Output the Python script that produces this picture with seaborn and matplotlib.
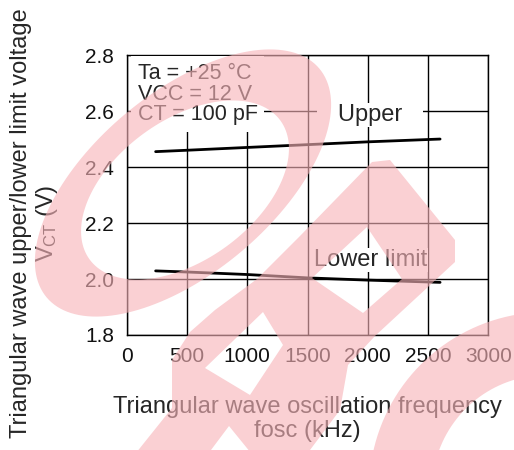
import matplotlib
matplotlib.use("Agg")
import matplotlib.pyplot as plt
import matplotlib.path as mpath
import matplotlib.patches as mpatches
import seaborn as sns
import numpy as np
import pandas as pd

# values
fosc_khz = [240, 500, 1000, 1500, 2000, 2600]
v_upper = [2.455, 2.460, 2.470, 2.480, 2.490, 2.500]
v_lower = [2.029, 2.025, 2.016, 2.004, 1.996, 1.988]

x_ticks = [0, 500, 1000, 1500, 2000, 2500, 3000]
y_ticks = [1.8, 2.0, 2.2, 2.4, 2.6, 2.8]

conditions = "Ta = +25 °C\nVCC = 12 V\nCT = 100 pF"

W, H = 514, 450


def _px(pts):
    # image pixels (y down) -> figure fraction
    pts = np.asarray(pts, dtype=float)
    return np.column_stack([pts[:, 0] / W, 1 - pts[:, 1] / H])


def _oriented(pts, ccw=True):
    p = _px(pts)
    area = 0.5 * np.sum(p[:, 0] * np.roll(p[:, 1], -1) - np.roll(p[:, 0], -1) * p[:, 1])
    if (area > 0) != ccw:
        p = p[::-1]
    return p


def _ellipse(cx, cy, a, b, ang, n=160):
    t = np.linspace(0, 2 * np.pi, n, endpoint=False)
    r = np.deg2rad(ang)
    x = a * np.cos(t) * np.cos(r) - b * np.sin(t) * np.sin(r)
    y = a * np.cos(t) * np.sin(r) + b * np.sin(t) * np.cos(r)
    return np.column_stack([cx + x, cy - y])


def add_watermark(fig):
    # rough trace of the pink logo stamped over the original graph
    shapes = [
        (_ellipse(183, 183, 178, 90, 40), True),
        (_ellipse(185, 190, 118, 70, 36), False),
        (_ellipse(547, 490, 178, 178, 0), True),
        (_ellipse(547, 490, 115, 115, 0), False),
        (np.array([[132, 458], [172, 408], [172, 360], [190, 332], [215, 310],
                   [257, 279], [300, 236], [372, 162], [390, 160], [455, 240],
                   [455, 262], [375, 336], [348, 365], [340, 410], [304, 458],
                   [255, 458], [229, 426], [205, 458]]), True),
        (np.array([[367, 227], [402, 279], [363, 313], [312, 278]]), False),
        (np.array([[263, 312], [283, 345], [250, 395], [205, 368]]), False),
    ]
    verts, codes = [], []
    for pts, ccw in shapes:
        p = _oriented(pts, ccw)
        verts += list(p) + [p[0]]
        codes += [mpath.Path.MOVETO] + [mpath.Path.LINETO] * (len(p) - 1) + [mpath.Path.CLOSEPOLY]
    patch = mpatches.PathPatch(mpath.Path(verts, codes), transform=fig.transFigure,
                               facecolor=(0.97, 0.70, 0.72), edgecolor="none",
                               alpha=0.62, zorder=100)
    fig.add_artist(patch)


df = pd.concat([
    pd.DataFrame({"fosc": fosc_khz, "vct": v_upper, "curve": "Upper"}),
    pd.DataFrame({"fosc": fosc_khz, "vct": v_lower, "curve": "Lower limit"}),
])

sns.set_style("white")
plt.rcParams["font.family"] = ["Liberation Sans", "DejaVu Sans"]
plt.rcParams["mathtext.fontset"] = "custom"
plt.rcParams["mathtext.rm"] = "Liberation Sans"

fig = plt.figure(figsize=(W / 100, H / 100), dpi=100)
ax = fig.add_axes([0.2465, 0.2556, 0.7035, 0.622])

sns.lineplot(data=df, x="fosc", y="vct", hue="curve",
             palette={"Upper": "black", "Lower limit": "black"},
             linewidth=2, legend=False, ax=ax)

ax.set_xlim(0, 3000)
ax.set_ylim(1.8, 2.8)
ax.set_xticks(x_ticks)
ax.set_yticks(y_ticks)
ax.set_yticklabels([f"{v:.1f}" for v in y_ticks])
ax.tick_params(length=0, labelsize=15, pad=9, colors="#111111")
ax.grid(True, color="black", linewidth=1)
ax.set_axisbelow(True)
for s in ax.spines.values():
    s.set_color("black")
    s.set_linewidth(1)

ax.set_xlabel("Triangular wave oscillation frequency\nfosc (kHz)",
              fontsize=17, linespacing=1.1)
ax.xaxis.set_label_coords(0.5, -0.218)
ax.set_ylabel("Triangular wave upper/lower limit voltage\n"
              r"$\mathregular{V_{CT}}$ (V)",
              fontsize=17, linespacing=1.1)
ax.yaxis.set_label_coords(-0.185, 0.40)

ax.text(0.031, 0.972, conditions, transform=ax.transAxes, ha="left", va="top",
        fontsize=15.5, linespacing=0.98, zorder=3,
        bbox=dict(facecolor="white", edgecolor="none", boxstyle="square,pad=0.3"))
ax.text(2018, 2.564, "   Upper   ", ha="center", va="baseline", fontsize=17, zorder=3,
        bbox=dict(facecolor="white", edgecolor="none", boxstyle="square,pad=0.05"))
ax.text(2023, 2.046, "Lower limit", ha="center", va="baseline", fontsize=17, zorder=3,
        bbox=dict(facecolor="white", edgecolor="none", boxstyle="square,pad=0.05"))

add_watermark(fig)

fig.savefig("out.png", dpi=100)
